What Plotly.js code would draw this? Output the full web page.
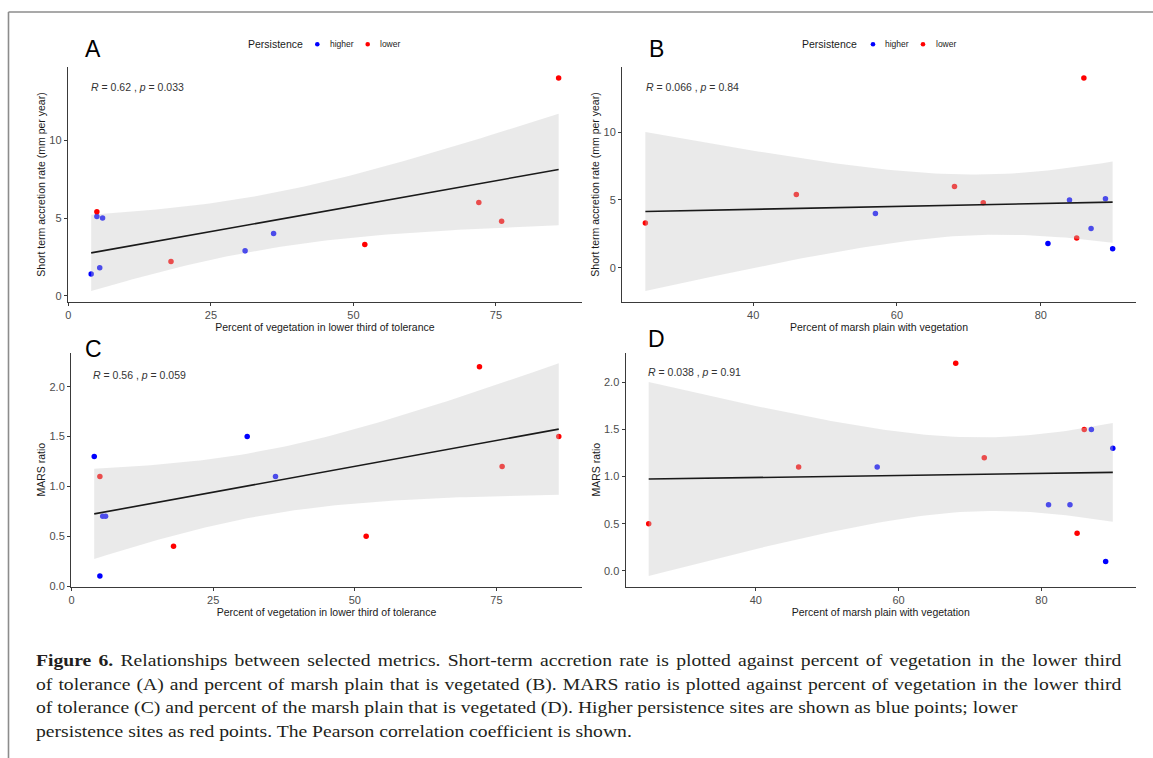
<!DOCTYPE html>
<html>
<head>
<meta charset="utf-8">
<script src="https://cdn.plot.ly/plotly-3.0.1.min.js"></script>
<style>
html,body{margin:0;padding:0;background:#fff;}
#wrap{position:relative;width:1153px;height:758px;overflow:hidden;background:#fff;}
#chart{position:absolute;left:0;top:0;width:1153px;height:758px;}
#caption{position:absolute;left:36px;top:649px;font-family:'Liberation Serif','Times New Roman',serif;font-size:16.5px;line-height:23.5px;color:#231f20;white-space:nowrap;}
#caption span{display:block;transform:scaleX(1.19);transform-origin:0 50%;}
#caption span.j{width:912px;text-align:justify;text-align-last:justify;white-space:normal;}
</style>
</head>
<body>
<div id="wrap">
<div id="chart"></div>
<div id="caption">
<span class="j"><b>Figure 6.</b> Relationships between selected metrics. Short-term accretion rate is plotted against percent of vegetation in the lower third</span>
<span class="j">of tolerance (A) and percent of marsh plain that is vegetated (B). MARS ratio is plotted against percent of vegetation in the lower third</span>
<span>of tolerance (C) and percent of the marsh plain that is vegetated (D). Higher persistence sites are shown as blue points; lower</span>
<span>persistence sites as red points. The Pearson correlation coefficient is shown.</span>
</div>
</div>
<script>
// ---------------- data (one entry per site) ----------------
const persistence   = ['higher','higher','higher','higher','higher','higher','lower','lower','lower','lower','lower','lower'];
const vegLowerThird = [4, 5, 6, 5.5, 31, 36, 5, 18, 52, 72, 76, 86];          // % vegetation in lower third of tolerance
const marshPlainVeg = [90, 89, 84, 81, 87, 57, 46, 85, 25, 68, 72, 86];        // % marsh plain with vegetation
const accretionRate = [1.4, 5.1, 5.0, 1.8, 2.9, 4.0, 5.4, 2.2, 3.3, 6.0, 4.8, 14.0]; // mm per year
const marsRatio     = [1.3, 0.1, 0.7, 0.7, 1.5, 1.1, 1.1, 0.4, 0.5, 2.2, 1.2, 1.5];

const groups = ['higher', 'lower'];
const legendTitle = 'Persistence';
const panelLetters = ['A', 'B', 'C', 'D'];
const corLabels = [
  '<i>R</i> = 0.62 , <i>p</i> = 0.033',
  '<i>R</i> = 0.066 , <i>p</i> = 0.84',
  '<i>R</i> = 0.56 , <i>p</i> = 0.059',
  '<i>R</i> = 0.038 , <i>p</i> = 0.91'
];
const xTitles = ['Percent of vegetation in lower third of tolerance', 'Percent of marsh plain with vegetation',
                 'Percent of vegetation in lower third of tolerance', 'Percent of marsh plain with vegetation'];
const yTitles = ['Short term accretion rate (mm per year)', 'Short term accretion rate (mm per year)', 'MARS ratio', 'MARS ratio'];
const xTicksLower = [0, 25, 50, 75];
const xTicksMarsh = [40, 60, 80];
const yTicksAccretion = [0, 5, 10];
const yTicksMars = [0, 0.5, 1, 1.5, 2];

// ---------------- styling / layout helpers ----------------
const W = 1153, H = 758;
const px = v => v / W;
const py = v => 1 - v / H;
const FONT = "'Liberation Sans', Arial, sans-serif";
const COLORS = {higher: '#0000ff', lower: '#ff0000'};
const T975 = 2.228139; // t quantile, 95% CI, df = n - 2 = 10

function lmBand(x, y) {
  const n = x.length;
  const mx = x.reduce((a, b) => a + b, 0) / n;
  const my = y.reduce((a, b) => a + b, 0) / n;
  let sxx = 0, sxy = 0;
  for (let i = 0; i < n; i++) { sxx += (x[i] - mx) ** 2; sxy += (x[i] - mx) * (y[i] - my); }
  const b = sxy / sxx, a = my - b * mx;
  let sse = 0;
  for (let i = 0; i < n; i++) sse += (y[i] - a - b * x[i]) ** 2;
  const s = Math.sqrt(sse / (n - 2));
  const x0 = Math.min(...x), x1 = Math.max(...x);
  const gx = [], fit = [], lo = [], hi = [];
  for (let k = 0; k < 80; k++) {
    const xv = x0 + (x1 - x0) * k / 79;
    const f = a + b * xv;
    const se = s * Math.sqrt(1 / n + (xv - mx) ** 2 / sxx);
    gx.push(xv); fit.push(f); lo.push(f - T975 * se); hi.push(f + T975 * se);
  }
  return {gx, fit, lo, hi};
}
function padRange(vals) {
  const lo = Math.min(...vals), hi = Math.max(...vals), d = (hi - lo) * 0.05;
  return [lo - d, hi + d];
}

const panels = [
  {x: vegLowerThird, y: accretionRate, xt: xTicksLower, yt: yTicksAccretion, dom: [67.8, 582], ydom: [67.3, 301.7], fmt: ''},
  {x: marshPlainVeg, y: accretionRate, xt: xTicksMarsh, yt: yTicksAccretion, dom: [622, 1136], ydom: [67.3, 301.7], fmt: ''},
  {x: vegLowerThird, y: marsRatio, xt: xTicksLower, yt: yTicksMars, dom: [71, 582], ydom: [352.7, 586.7], fmt: '.1f'},
  {x: marshPlainVeg, y: marsRatio, xt: xTicksMarsh, yt: yTicksMars, dom: [625.5, 1136], ydom: [352.7, 586.7], fmt: '.1f'}
];
const letterPos = [[93.3, 48.7], [656.5, 48.7], [93.3, 348.5], [657, 338.5]];
const corPos = [[88.5, 87.3], [643.5, 87.3], [91, 375], [646, 371.7]];
// key positions (px): title left, dot centres, label lefts, row centre
const keys = [
  {title: 245.7, dots: [317.3, 367.7], labels: [327.5, 378], y: 44.3},
  {title: 800, dots: [873, 923], labels: [883, 933.5], y: 44.3}
];

const traces = [];
const layout = {
  width: W, height: H, margin: {l: 0, r: 0, t: 0, b: 0},
  paper_bgcolor: '#fff', plot_bgcolor: 'rgba(0,0,0,0)',
  font: {family: FONT, color: '#1a1a1a'},
  showlegend: false,
  annotations: [], shapes: []
};

panels.forEach((p, i) => {
  const k = i === 0 ? '' : String(i + 1);
  const xa = 'x' + k, ya = 'y' + k;
  const band = lmBand(p.x, p.y);
  // points, by persistence group
  groups.forEach(g => {
    const gx = [], gy = [];
    p.x.forEach((v, j) => { if (persistence[j] === g) { gx.push(v); gy.push(p.y[j]); } });
    traces.push({type: 'scatter', mode: 'markers', x: gx, y: gy, xaxis: xa, yaxis: ya, name: g,
      marker: {color: COLORS[g], size: 5.5, line: {width: 0}}, hoverinfo: 'skip', showlegend: false});
  });
  // confidence ribbon (drawn over the points, as in the original)
  traces.push({type: 'scatter', mode: 'lines', x: band.gx.concat(band.gx.slice().reverse()),
    y: band.hi.concat(band.lo.slice().reverse()), fill: 'toself', fillcolor: 'rgba(200,200,200,0.38)',
    line: {width: 0, color: 'rgba(0,0,0,0)'}, xaxis: xa, yaxis: ya, showlegend: false, hoverinfo: 'skip'});
  // regression line
  traces.push({type: 'scatter', mode: 'lines', x: band.gx, y: band.fit, xaxis: xa, yaxis: ya,
    line: {color: '#1a1a1a', width: 1.6}, showlegend: false, hoverinfo: 'skip'});

  const xr = padRange(p.x);
  const yr = padRange(p.y.concat(band.lo, band.hi));
  const axCommon = {showline: true, linecolor: '#3a3a3a', linewidth: 1, ticks: 'outside', ticklen: 3,
    tickwidth: 1, tickcolor: '#3a3a3a', showgrid: false, zeroline: false, fixedrange: true,
    tickfont: {family: FONT, size: 11, color: '#4d4d4d'}};
  layout['xaxis' + k] = Object.assign({}, axCommon, {
    domain: [px(p.dom[0]), px(p.dom[1])], anchor: ya, range: xr, tickmode: 'array', tickvals: p.xt,
    title: {text: xTitles[i], font: {family: FONT, size: 10.5, color: '#1a1a1a'}, standoff: 3}
  });
  layout['yaxis' + k] = Object.assign({}, axCommon, {
    domain: [py(p.ydom[1]), py(p.ydom[0])], anchor: xa, range: yr, tickmode: 'array', tickvals: p.yt,
    tickformat: p.fmt,
    title: {text: yTitles[i], font: {family: FONT, size: 10.5, color: '#1a1a1a'}, standoff: 1}
  });
  layout.annotations.push({xref: 'paper', yref: 'paper', x: px(letterPos[i][0]), y: py(letterPos[i][1]),
    xanchor: 'center', yanchor: 'middle', text: panelLetters[i], showarrow: false,
    font: {family: FONT, size: 23, color: '#000'}});
  layout.annotations.push({xref: 'paper', yref: 'paper', x: px(corPos[i][0]), y: py(corPos[i][1]),
    xanchor: 'left', yanchor: 'middle', text: corLabels[i], showarrow: false,
    font: {family: FONT, size: 10.5, color: '#333'}});
});

// colour keys ("Persistence  • higher  • lower") above panels A and B
keys.forEach(kp => {
  layout.annotations.push({xref: 'paper', yref: 'paper', x: px(kp.title), y: py(kp.y), xanchor: 'left', yanchor: 'middle',
    text: legendTitle, showarrow: false, font: {family: FONT, size: 10.5, color: '#1a1a1a'}});
  groups.forEach((g, gi) => {
    const r = 2.3, cx = kp.dots[gi];
    layout.shapes.push({type: 'circle', xref: 'paper', yref: 'paper', x0: px(cx - r), x1: px(cx + r),
      y0: py(kp.y + r), y1: py(kp.y - r), fillcolor: COLORS[g], line: {width: 0}});
    layout.annotations.push({xref: 'paper', yref: 'paper', x: px(kp.labels[gi]), y: py(kp.y), xanchor: 'left', yanchor: 'middle',
      text: g, showarrow: false, font: {family: FONT, size: 8.5, color: '#1a1a1a'}});
  });
});

// figure frame (top and left rules)
layout.shapes.push({type: 'line', xref: 'paper', yref: 'paper', x0: px(8.5), x1: 1, y0: py(12), y1: py(12),
  line: {color: '#8c8c8c', width: 1.6}});
layout.shapes.push({type: 'line', xref: 'paper', yref: 'paper', x0: px(8.5), x1: px(8.5), y0: py(12), y1: 0,
  line: {color: '#8c8c8c', width: 1.6}});

Plotly.newPlot('chart', traces, layout, {staticPlot: true, displayModeBar: false});
</script>
</body>
</html>
